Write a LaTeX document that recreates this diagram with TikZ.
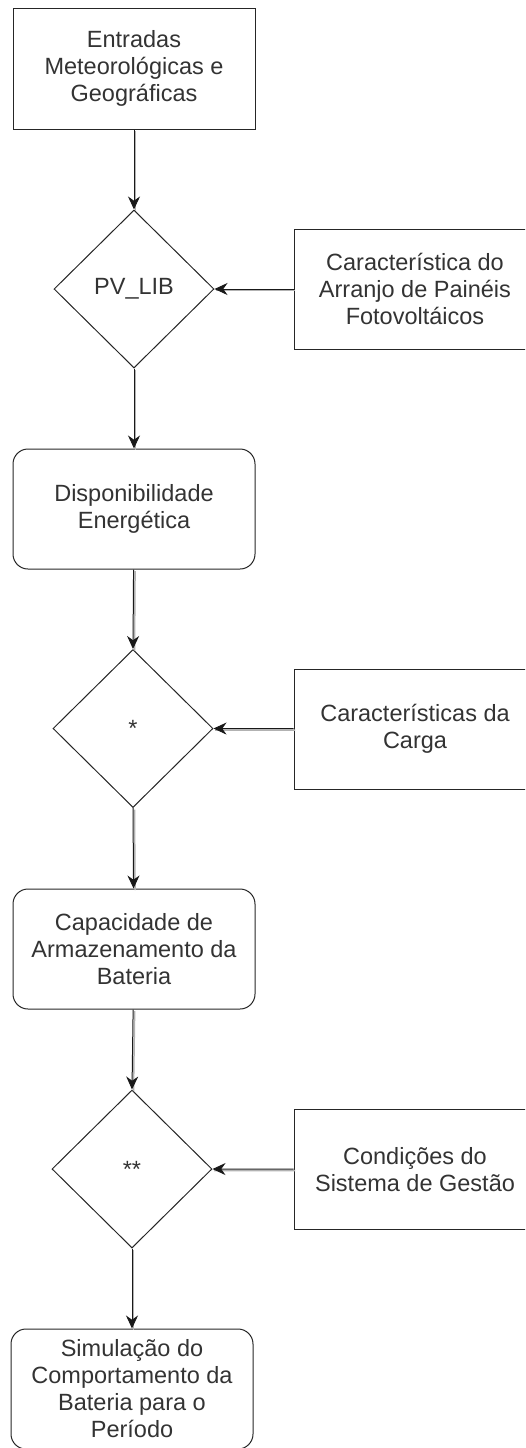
\documentclass[tikz,border=0pt]{standalone}
\usepackage{fontspec}
\setmainfont{Liberation Sans}
\usetikzlibrary{shapes.geometric,arrows.meta}

\tikzset{
    caixa/.style={draw=black!85, line width=1pt, minimum width=242pt, minimum height=120pt,
        align=center, text=black!80, font=\fontsize{23.5}{27}\selectfont},
    caixaarred/.style={caixa, rounded corners=15pt},
    decisao/.style={draw=black!85, diamond, line width=1pt, minimum width=160pt, minimum height=158pt,
        inner sep=0pt, text=black!80, font=\fontsize{23.5}{27}\selectfont},
    seta/.style={draw=black!90, line width=1pt, -{Stealth[length=13pt,width=12pt]},
        preaction={draw=black!30, line width=1.5pt, -, transform canvas={shift={(1.5pt,-1.5pt)}}}}
}

\begin{document}
\begin{tikzpicture}[x=1pt,y=1pt]
        \clip (0,0) rectangle (525,-1448);
        \useasboundingbox (0,0) rectangle (525,-1448);

        % ~~~~ Coluna principal ~~~~ %
        \node[caixa, minimum height=121pt] (entradas) at (134,-68.5) {Entradas\\Meteorológicas e\\Geográficas};
        \node[decisao] (pvlib) at (134,-289) {PV\_LIB};
        \node[caixaarred] (disponib) at (134,-509) {Disponibilidade\\Energética};
        \node[decisao] (dec1) at (133,-728.5) {*};
        \node[caixaarred] (capac) at (134,-949) {Capacidade de\\Armazenamento da\\Bateria};
        \node[decisao] (dec2) at (132,-1169) {**};
        \node[caixaarred] (simul) at (132,-1389) {Simulação do\\Comportamento da\\Bateria para o\\Período};

        % ~~~~ Entradas laterais ~~~~ %
        \node[caixa] (arranjo) at (415,-289) {Característica do\\Arranjo de Painéis\\Fotovoltáicos};
        \node[caixa] (carga) at (415,-729) {Características da\\Carga};
        \node[caixa] (gestao) at (415,-1169.5) {Condições do\\Sistema de Gestão};

        % ~~~~ Fluxo ~~~~ %
        \draw[seta] (entradas) -- (pvlib.north);
        \draw[seta] (pvlib.south) -- (disponib);
        \draw[seta] (disponib) -- (dec1.north);
        \draw[seta] (dec1.south) -- (capac);
        \draw[seta] (capac) -- (dec2.north);
        \draw[seta] (dec2.south) -- (simul);

        \draw[seta] (arranjo) -- (pvlib.east);
        \draw[seta] (carga) -- (dec1.east);
        \draw[seta] (gestao) -- (dec2.east);
    \end{tikzpicture}
\end{document}
